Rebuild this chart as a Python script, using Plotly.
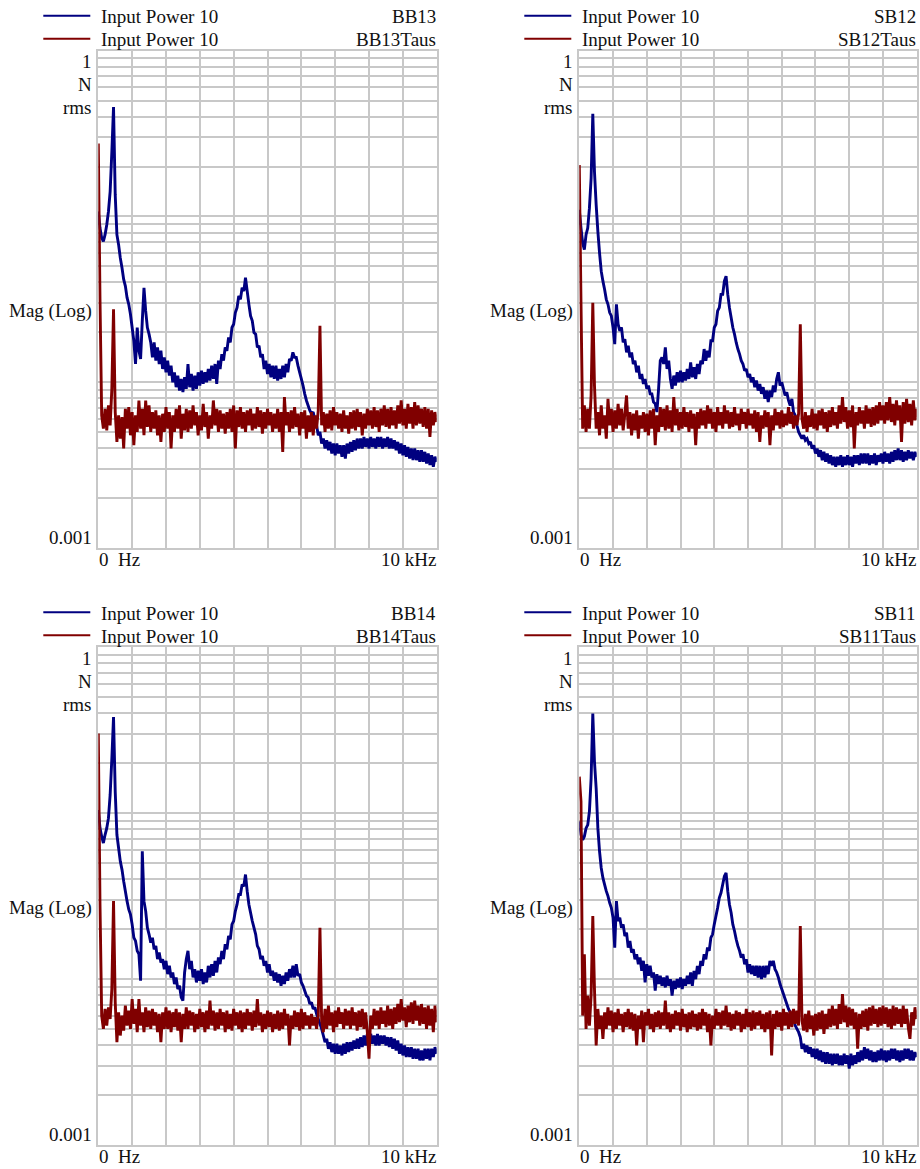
import plotly.graph_objects as go

W, H = 920, 1169
FREQ_STEP_HZ = 50          # spectral line spacing of the read-off values
X_RANGE_HZ = [0, 10000]    # 0 Hz .. 10 kHz
Y_RANGE_LOG = [-3, 0]      # 0.001 .. 1 N rms

legend_text = "Input Power 10"
y_labels = ["1", "N", "rms", "Mag (Log)", "0.001"]
x_labels = ["0\u00a0\u00a0Hz", "10 kHz"]

# Magnitudes, as log10(N rms), one value every 50 Hz from 0 Hz
bb13_log10 = [
    -0.97, -1.07, -1.13, -1.15, -1.11, -1.05, -0.97, -0.85, -0.61, -0.34,
    -0.87, -1.11, -1.17, -1.25, -1.31, -1.38, -1.42, -1.49, -1.53, -1.59,
    -1.67, -1.75, -1.89, -1.67, -1.81, -1.86, -1.63, -1.43, -1.57, -1.67,
    -1.71, -1.76, -1.85, -1.76, -1.87, -1.79, -1.89, -1.81, -1.92, -1.85,
    -1.94, -1.87, -1.96, -1.90, -2.00, -1.94, -2.03, -1.96, -2.05, -1.98,
    -2.06, -1.97, -2.04, -1.89, -2.03, -1.95, -2.05, -1.96, -2.04, -1.94,
    -2.02, -1.93, -2.01, -1.94, -2.00, -1.92, -1.99, -1.90, -1.98, -1.89,
    -2.01, -1.87, -1.92, -1.83, -1.87, -1.79, -1.81, -1.73, -1.76, -1.67,
    -1.65, -1.58, -1.55, -1.48, -1.50, -1.43, -1.45, -1.37, -1.45, -1.53,
    -1.60, -1.63, -1.70, -1.71, -1.79, -1.78, -1.85, -1.83, -1.92, -1.87,
    -1.95, -1.89, -1.97, -1.90, -1.98, -1.90, -1.99, -1.92, -1.98, -1.90,
    -1.97, -1.89, -1.94, -1.86, -1.87, -1.82, -1.85, -1.85, -1.90, -1.94,
    -1.98, -2.02, -2.07, -2.11, -2.14, -2.17, -2.19, -2.18, -2.23, -2.26,
    -2.32, -2.30, -2.37, -2.34, -2.40, -2.35, -2.41, -2.36, -2.43, -2.37,
    -2.44, -2.37, -2.43, -2.38, -2.45, -2.38, -2.46, -2.37, -2.43, -2.36,
    -2.42, -2.35, -2.41, -2.34, -2.40, -2.34, -2.40, -2.33, -2.39, -2.34,
    -2.40, -2.33, -2.39, -2.34, -2.40, -2.33, -2.39, -2.33, -2.40, -2.34,
    -2.39, -2.33, -2.40, -2.34, -2.40, -2.35, -2.41, -2.36, -2.43, -2.37,
    -2.44, -2.38, -2.45, -2.39, -2.46, -2.40, -2.47, -2.40, -2.47, -2.41,
    -2.48, -2.41, -2.48, -2.42, -2.49, -2.43, -2.50, -2.44, -2.51, -2.45,
    -2.48,
]
bb13taus_log10 = [
    -0.56, -1.50, -2.20, -2.28, -2.16, -2.29, -2.14, -2.26, -2.04, -1.56,
    -2.18, -2.36, -2.20, -2.34, -2.21, -2.40, -2.16, -2.28, -2.15, -2.32,
    -2.18, -2.38, -2.20, -2.30, -2.11, -2.28, -2.16, -2.32, -2.11, -2.27,
    -2.14, -2.30, -2.18, -2.28, -2.17, -2.32, -2.20, -2.36, -2.19, -2.30,
    -2.15, -2.28, -2.18, -2.40, -2.20, -2.30, -2.16, -2.28, -2.14, -2.34,
    -2.19, -2.29, -2.16, -2.30, -2.17, -2.28, -2.14, -2.26, -2.18, -2.32,
    -2.20, -2.29, -2.13, -2.27, -2.18, -2.34, -2.20, -2.28, -2.11, -2.26,
    -2.16, -2.30, -2.17, -2.28, -2.19, -2.31, -2.18, -2.28, -2.16, -2.30,
    -2.14, -2.40, -2.17, -2.27, -2.15, -2.28, -2.18, -2.30, -2.17, -2.26,
    -2.16, -2.29, -2.19, -2.28, -2.15, -2.27, -2.17, -2.31, -2.18, -2.28,
    -2.16, -2.26, -2.18, -2.30, -2.19, -2.28, -2.16, -2.30, -2.18, -2.42,
    -2.09, -2.26, -2.18, -2.30, -2.17, -2.28, -2.15, -2.27, -2.19, -2.32,
    -2.18, -2.28, -2.17, -2.34, -2.20, -2.30, -2.18, -2.32, -2.20, -2.28,
    -2.17, -1.66, -2.26, -2.18, -2.30, -2.19, -2.28, -2.17, -2.29, -2.15,
    -2.26, -2.18, -2.28, -2.19, -2.30, -2.17, -2.28, -2.20, -2.31, -2.18,
    -2.28, -2.17, -2.29, -2.16, -2.27, -2.18, -2.32, -2.19, -2.28, -2.16,
    -2.26, -2.17, -2.28, -2.15, -2.27, -2.17, -2.30, -2.16, -2.26, -2.14,
    -2.27, -2.16, -2.28, -2.15, -2.26, -2.17, -2.28, -2.14, -2.25, -2.11,
    -2.26, -2.16, -2.28, -2.13, -2.25, -2.15, -2.28, -2.12, -2.26, -2.14,
    -2.25, -2.16, -2.27, -2.15, -2.28, -2.16, -2.33, -2.17, -2.26, -2.18,
    -2.24,
]
sb12_log10 = [
    -0.96, -1.07, -1.16, -1.20, -1.11, -1.07, -0.95, -0.77, -0.38, -0.73,
    -0.93, -1.09, -1.22, -1.33, -1.39, -1.44, -1.50, -1.53, -1.58, -1.60,
    -1.67, -1.77, -1.53, -1.65, -1.69, -1.67, -1.76, -1.74, -1.82, -1.78,
    -1.85, -1.82, -1.89, -1.87, -1.94, -1.90, -1.98, -1.95, -2.01, -1.98,
    -2.04, -2.02, -2.07, -2.07, -2.12, -2.13, -2.18, -2.04, -1.87, -1.85,
    -1.89, -1.79, -1.92, -1.87, -1.98, -2.04, -1.96, -2.02, -1.94, -2.00,
    -1.93, -2.00, -1.94, -1.99, -1.92, -1.98, -1.88, -1.97, -1.91, -1.98,
    -1.89, -1.95, -1.87, -1.89, -1.80, -1.87, -1.81, -1.85, -1.75, -1.75,
    -1.67, -1.65, -1.57, -1.55, -1.47, -1.47, -1.39, -1.36, -1.47, -1.55,
    -1.61, -1.67, -1.71, -1.76, -1.80, -1.83, -1.87, -1.89, -1.93, -1.92,
    -1.97, -1.95, -2.00, -1.97, -2.03, -1.99, -2.05, -2.01, -2.07, -2.03,
    -2.10, -2.05, -2.12, -2.05, -2.09, -2.02, -2.06, -1.98, -1.94, -2.02,
    -2.00, -2.04, -2.08, -2.06, -2.11, -2.14, -2.10, -2.18, -2.20, -2.26,
    -2.30, -2.32, -2.34, -2.32, -2.35, -2.34, -2.37, -2.36, -2.40, -2.38,
    -2.43, -2.40, -2.45, -2.41, -2.47, -2.42, -2.48, -2.43, -2.49, -2.44,
    -2.50, -2.45, -2.51, -2.45, -2.50, -2.44, -2.51, -2.45, -2.50, -2.44,
    -2.50, -2.45, -2.51, -2.44, -2.49, -2.44, -2.50, -2.43, -2.49, -2.43,
    -2.49, -2.43, -2.50, -2.44, -2.49, -2.43, -2.50, -2.44, -2.48, -2.43,
    -2.49, -2.42, -2.48, -2.43, -2.49, -2.42, -2.48, -2.41, -2.47, -2.40,
    -2.47, -2.41, -2.48, -2.42, -2.47, -2.41, -2.46, -2.42, -2.47, -2.42,
    -2.45,
]
sb12taus_log10 = [
    -0.69, -1.52, -2.28, -2.14, -2.30, -2.16, -2.28, -2.08, -1.52, -2.02,
    -2.28, -2.18, -2.32, -2.14, -2.28, -2.20, -2.34, -2.10, -2.26, -2.16,
    -2.30, -2.17, -2.28, -2.13, -2.26, -2.16, -2.29, -2.19, -2.08, -2.28,
    -2.18, -2.32, -2.19, -2.29, -2.17, -2.34, -2.20, -2.28, -2.18, -2.30,
    -2.19, -2.32, -2.17, -2.28, -2.16, -2.38, -2.20, -2.30, -2.15, -2.27,
    -2.16, -2.29, -2.14, -2.28, -2.17, -2.30, -2.09, -2.26, -2.16, -2.29,
    -2.18, -2.28, -2.15, -2.27, -2.18, -2.30, -2.17, -2.28, -2.19, -2.38,
    -2.18, -2.28, -2.16, -2.26, -2.17, -2.28, -2.14, -2.25, -2.16, -2.28,
    -2.18, -2.30, -2.15, -2.26, -2.18, -2.28, -2.14, -2.25, -2.17, -2.28,
    -2.18, -2.27, -2.15, -2.26, -2.19, -2.29, -2.16, -2.25, -2.18, -2.28,
    -2.16, -2.26, -2.19, -2.28, -2.17, -2.30, -2.18, -2.36, -2.20, -2.28,
    -2.17, -2.27, -2.18, -2.38, -2.20, -2.29, -2.16, -2.26, -2.18, -2.28,
    -2.17, -2.27, -2.19, -2.26, -2.15, -2.25, -2.18, -2.28, -2.20, -2.26,
    -2.19, -1.65, -2.22, -2.28, -2.18, -2.30, -2.20, -2.27, -2.16, -2.28,
    -2.19, -2.29, -2.17, -2.26, -2.16, -2.28, -2.18, -2.30, -2.17, -2.27,
    -2.15, -2.26, -2.18, -2.28, -2.14, -2.25, -2.09, -2.24, -2.15, -2.28,
    -2.17, -2.27, -2.14, -2.40, -2.18, -2.26, -2.15, -2.25, -2.17, -2.28,
    -2.14, -2.25, -2.16, -2.27, -2.15, -2.26, -2.14, -2.25, -2.12, -2.23,
    -2.14, -2.25, -2.12, -2.23, -2.09, -2.24, -2.13, -2.26, -2.11, -2.23,
    -2.14, -2.36, -2.12, -2.25, -2.10, -2.24, -2.13, -2.26, -2.11, -2.23,
    -2.16,
]
bb14_log10 = [
    -0.98, -1.09, -1.14, -1.18, -1.13, -1.09, -1.03, -0.89, -0.67, -0.42,
    -0.87, -1.13, -1.21, -1.29, -1.34, -1.41, -1.47, -1.53, -1.58, -1.61,
    -1.67, -1.75, -1.77, -1.83, -1.85, -2.01, -1.23, -1.53, -1.59, -1.69,
    -1.73, -1.78, -1.75, -1.82, -1.80, -1.88, -1.84, -1.90, -1.88, -1.94,
    -1.89, -1.97, -1.92, -1.99, -1.96, -2.03, -1.99, -2.06, -2.04, -2.11,
    -2.13, -1.96, -1.88, -1.83, -1.94, -1.89, -1.99, -1.94, -2.02, -1.95,
    -2.01, -1.94, -2.03, -1.96, -2.02, -1.92, -1.99, -1.91, -1.98, -1.89,
    -1.96, -1.87, -1.91, -1.83, -1.88, -1.79, -1.82, -1.74, -1.76, -1.67,
    -1.65, -1.59, -1.55, -1.49, -1.49, -1.43, -1.44, -1.37, -1.47, -1.55,
    -1.60, -1.65, -1.69, -1.73, -1.80, -1.82, -1.88, -1.86, -1.92, -1.89,
    -1.96, -1.91, -1.98, -1.95, -2.01, -1.96, -2.02, -1.97, -2.04, -1.98,
    -2.03, -1.96, -2.01, -1.94, -1.99, -1.92, -1.99, -1.91, -1.98, -1.97,
    -2.02, -2.04, -2.07, -2.10, -2.11, -2.15, -2.14, -2.18, -2.17, -2.21,
    -2.24, -2.27, -2.30, -2.34, -2.38, -2.36, -2.42, -2.38, -2.44, -2.39,
    -2.45, -2.39, -2.45, -2.40, -2.46, -2.39, -2.45, -2.38, -2.44, -2.38,
    -2.43, -2.37, -2.42, -2.36, -2.42, -2.35, -2.41, -2.34, -2.40, -2.33,
    -2.40, -2.33, -2.39, -2.34, -2.40, -2.33, -2.40, -2.34, -2.39, -2.34,
    -2.40, -2.35, -2.41, -2.35, -2.42, -2.36, -2.43, -2.37, -2.45, -2.39,
    -2.46, -2.40, -2.47, -2.41, -2.47, -2.41, -2.48, -2.42, -2.48, -2.42,
    -2.49, -2.43, -2.49, -2.42, -2.48, -2.42, -2.49, -2.42, -2.47, -2.41,
    -2.45,
]
bb14taus_log10 = [
    -0.52, -1.55, -2.22, -2.30, -2.18, -2.28, -2.17, -2.24, -2.06, -1.53,
    -2.14, -2.38, -2.20, -2.34, -2.22, -2.31, -2.16, -2.28, -2.19, -2.30,
    -2.12, -2.27, -2.18, -2.32, -2.12, -2.28, -2.20, -2.32, -2.17, -2.29,
    -2.19, -2.30, -2.18, -2.28, -2.20, -2.32, -2.21, -2.38, -2.20, -2.30,
    -2.17, -2.30, -2.19, -2.32, -2.20, -2.29, -2.18, -2.31, -2.20, -2.38,
    -2.21, -2.30, -2.17, -2.30, -2.19, -2.28, -2.20, -2.32, -2.21, -2.30,
    -2.18, -2.29, -2.20, -2.32, -2.19, -2.30, -2.13, -2.28, -2.19, -2.31,
    -2.20, -2.30, -2.18, -2.28, -2.20, -2.32, -2.19, -2.30, -2.21, -2.31,
    -2.18, -2.28, -2.20, -2.30, -2.19, -2.32, -2.20, -2.30, -2.18, -2.28,
    -2.20, -2.31, -2.19, -2.29, -2.12, -2.28, -2.20, -2.32, -2.21, -2.30,
    -2.19, -2.29, -2.20, -2.32, -2.21, -2.30, -2.19, -2.31, -2.20, -2.30,
    -2.18, -2.28, -2.21, -2.40, -2.22, -2.30, -2.19, -2.29, -2.20, -2.31,
    -2.18, -2.30, -2.20, -2.28, -2.22, -2.30, -2.21, -2.28, -2.23, -2.30,
    -2.22, -1.69, -2.25, -2.32, -2.18, -2.30, -2.16, -2.28, -2.20, -2.32,
    -2.19, -2.29, -2.17, -2.27, -2.20, -2.30, -2.18, -2.28, -2.19, -2.30,
    -2.17, -2.28, -2.20, -2.31, -2.19, -2.29, -2.18, -2.30, -2.20, -2.32,
    -2.48, -2.22, -2.30, -2.18, -2.28, -2.19, -2.30, -2.17, -2.27, -2.19,
    -2.29, -2.16, -2.28, -2.18, -2.30, -2.17, -2.27, -2.15, -2.26, -2.12,
    -2.25, -2.17, -2.29, -2.16, -2.26, -2.14, -2.27, -2.13, -2.25, -2.16,
    -2.28, -2.15, -2.27, -2.17, -2.30, -2.16, -2.28, -2.18, -2.32, -2.16,
    -2.26,
]
sb11_log10 = [
    -1.05, -1.13, -1.16, -1.14, -1.09, -1.07, -0.99, -0.79, -0.40, -0.69,
    -0.85, -1.09, -1.23, -1.33, -1.39, -1.43, -1.47, -1.50, -1.54, -1.57,
    -1.63, -1.81, -1.53, -1.65, -1.63, -1.69, -1.67, -1.74, -1.72, -1.81,
    -1.77, -1.84, -1.82, -1.88, -1.85, -1.91, -1.87, -1.95, -1.89, -2.02,
    -1.91, -1.98, -1.92, -1.99, -1.96, -2.07, -1.97, -2.03, -1.98, -2.04,
    -1.99, -2.05, -1.98, -2.04, -2.00, -2.10, -2.01, -2.06, -2.00, -2.05,
    -1.99, -2.06, -2.00, -2.04, -1.98, -2.03, -1.96, -2.04, -1.95, -2.00,
    -1.92, -1.97, -1.89, -1.92, -1.85, -1.88, -1.81, -1.83, -1.75, -1.73,
    -1.67, -1.62, -1.57, -1.51, -1.48, -1.43, -1.38, -1.36, -1.47, -1.55,
    -1.60, -1.67, -1.71, -1.76, -1.80, -1.83, -1.87, -1.85, -1.91, -1.88,
    -1.96, -1.91, -1.97, -1.92, -1.98, -1.92, -1.99, -1.92, -2.00, -1.92,
    -1.99, -1.92, -1.97, -1.89, -1.92, -1.89, -1.94, -1.96, -1.99, -2.03,
    -2.06, -2.09, -2.12, -2.15, -2.18, -2.20, -2.22, -2.24, -2.28, -2.30,
    -2.32, -2.35, -2.42, -2.39, -2.44, -2.40, -2.45, -2.41, -2.47, -2.42,
    -2.48, -2.42, -2.49, -2.43, -2.50, -2.44, -2.51, -2.44, -2.51, -2.45,
    -2.52, -2.45, -2.51, -2.45, -2.52, -2.46, -2.52, -2.45, -2.51, -2.46,
    -2.54, -2.45, -2.52, -2.46, -2.51, -2.44, -2.50, -2.43, -2.49, -2.41,
    -2.48, -2.42, -2.49, -2.43, -2.50, -2.44, -2.50, -2.43, -2.49, -2.42,
    -2.49, -2.43, -2.50, -2.43, -2.49, -2.42, -2.48, -2.42, -2.49, -2.43,
    -2.50, -2.43, -2.49, -2.42, -2.48, -2.42, -2.49, -2.43, -2.49, -2.44,
    -2.47,
]
sb11taus_log10 = [
    -0.78, -0.93, -2.22, -1.85, -2.30, -2.10, -2.28, -2.10, -1.62, -2.06,
    -2.40, -2.18, -2.30, -2.22, -2.36, -2.20, -2.30, -2.17, -2.28, -2.19,
    -2.32, -2.20, -2.30, -2.18, -2.28, -2.21, -2.32, -2.20, -2.29, -2.18,
    -2.30, -2.20, -2.31, -2.21, -2.40, -2.22, -2.30, -2.19, -2.38, -2.20,
    -2.28, -2.18, -2.30, -2.21, -2.32, -2.20, -2.29, -2.19, -2.30, -2.20,
    -2.28, -2.13, -2.30, -2.20, -2.32, -2.21, -2.30, -2.19, -2.28, -2.20,
    -2.31, -2.18, -2.29, -2.21, -2.32, -2.20, -2.30, -2.19, -2.29, -2.21,
    -2.31, -2.20, -2.30, -2.18, -2.28, -2.20, -2.32, -2.21, -2.40, -2.22,
    -2.30, -2.18, -2.28, -2.20, -2.30, -2.19, -2.28, -2.16, -2.29, -2.20,
    -2.31, -2.21, -2.30, -2.19, -2.28, -2.20, -2.32, -2.21, -2.30, -2.18,
    -2.29, -2.20, -2.31, -2.19, -2.30, -2.20, -2.28, -2.19, -2.30, -2.21,
    -2.32, -2.20, -2.30, -2.19, -2.46, -2.21, -2.30, -2.19, -2.29, -2.20,
    -2.31, -2.18, -2.28, -2.20, -2.30, -2.19, -2.29, -2.18, -2.27, -2.19,
    -2.28, -1.68, -2.25, -2.31, -2.21, -2.32, -2.19, -2.30, -2.22, -2.34,
    -2.21, -2.31, -2.20, -2.30, -2.19, -2.33, -2.21, -2.30, -2.18, -2.29,
    -2.16, -2.28, -2.18, -2.30, -2.15, -2.27, -2.09, -2.26, -2.16, -2.29,
    -2.17, -2.28, -2.18, -2.30, -2.20, -2.42, -2.21, -2.30, -2.19, -2.29,
    -2.18, -2.31, -2.17, -2.28, -2.16, -2.27, -2.18, -2.29, -2.17, -2.28,
    -2.16, -2.27, -2.17, -2.29, -2.18, -2.30, -2.16, -2.28, -2.17, -2.27,
    -2.18, -2.29, -2.16, -2.27, -2.18, -2.29, -2.36, -2.20, -2.28, -2.17,
    -2.24,
]

BLUE = "#000080"
RED = "#800000"
GRID = "#c8c8c8"
FONT = dict(family="Liberation Serif, Times New Roman, serif", size=19, color="#111111")

# panel frames in pixels (left, right, top, bottom)
panels = [
    dict(blue=bb13_log10, red=bb13taus_log10, names=("BB13", "BB13Taus"), box=(98.3, 436.7, 50.7, 548.0)),
    dict(blue=sb12_log10, red=sb12taus_log10, names=("SB12", "SB12Taus"), box=(579.3, 916.7, 50.7, 548.0)),
    dict(blue=bb14_log10, red=bb14taus_log10, names=("BB14", "BB14Taus"), box=(98.3, 436.7, 647.3, 1145.0)),
    dict(blue=sb11_log10, red=sb11taus_log10, names=("SB11", "SB11Taus"), box=(579.3, 916.7, 647.3, 1145.0)),
]


def px(x):
    return x / W


def py(y):
    return 1 - y / H


fig = go.Figure()
annotations = []
shapes = []
layout_axes = {}

for k, p in enumerate(panels, start=1):
    L, R, T, B = p["box"]
    xa = "x" if k == 1 else f"x{k}"
    ya = "y" if k == 1 else f"y{k}"
    for vals, color in ((p["blue"], BLUE), (p["red"], RED)):
        freqs = [FREQ_STEP_HZ * i for i in range(len(vals))]
        mags = [10 ** v for v in vals]
        fig.add_trace(go.Scatter(
            x=freqs, y=mags, mode="lines", xaxis=xa, yaxis=ya,
            line=dict(color=color, width=2.9, simplify=False), showlegend=False,
            hoverinfo="skip",
        ))
    layout_axes["xaxis" if k == 1 else f"xaxis{k}"] = dict(
        domain=[px(L), px(R)], anchor=ya, range=X_RANGE_HZ, dtick=1000,
        showgrid=True, gridcolor=GRID, gridwidth=1.5, zeroline=False,
        showline=True, linecolor=GRID, linewidth=1.5, mirror=True,
        showticklabels=False, ticks="", fixedrange=True,
    )
    layout_axes["yaxis" if k == 1 else f"yaxis{k}"] = dict(
        domain=[py(B), py(T)], anchor=xa, type="log", range=Y_RANGE_LOG,
        dtick="D1", showgrid=True, gridcolor=GRID, gridwidth=1.5, zeroline=False,
        showline=True, linecolor=GRID, linewidth=1.5, mirror=True,
        showticklabels=False, ticks="", fixedrange=True,
    )

    # legend rows
    for row, (color, name) in enumerate(((BLUE, p["names"][0]), (RED, p["names"][1]))):
        ly = T - 35 + 23 * row
        shapes.append(dict(type="line", xref="paper", yref="paper",
                           x0=px(L - 55), x1=px(L - 8), y0=py(ly), y1=py(ly),
                           line=dict(color=color, width=2)))
        annotations.append(dict(text=legend_text, x=px(L + 1), y=py(ly + 1),
                                xref="paper", yref="paper", xanchor="left", yanchor="middle",
                                showarrow=False, font=FONT))
        annotations.append(dict(text=name, x=px(R + 1), y=py(ly + 1),
                                xref="paper", yref="paper", xanchor="right", yanchor="middle",
                                showarrow=False, font=FONT))

    # y-axis labels
    y_pos = [T + 11, T + 34, T + 57, (T + B) / 2 + 12, B - 11]
    for txt, yy in zip(y_labels, y_pos):
        annotations.append(dict(text=txt, x=px(L - 4), y=py(yy), xref="paper", yref="paper",
                                xanchor="right", yanchor="middle", showarrow=False, font=FONT))
    # x-axis labels
    annotations.append(dict(text=x_labels[0], x=px(L - 1), y=py(B + 11), xref="paper", yref="paper",
                            xanchor="left", yanchor="middle", showarrow=False, font=FONT))
    annotations.append(dict(text=x_labels[1], x=px(R + 1), y=py(B + 11), xref="paper", yref="paper",
                            xanchor="right", yanchor="middle", showarrow=False, font=FONT))

fig.update_layout(
    width=W, height=H, margin=dict(l=0, r=0, t=0, b=0),
    paper_bgcolor="white", plot_bgcolor="white",
    font=FONT, annotations=annotations, shapes=shapes, showlegend=False,
    **layout_axes,
)

fig.write_html("out.html", config={"displayModeBar": False})
